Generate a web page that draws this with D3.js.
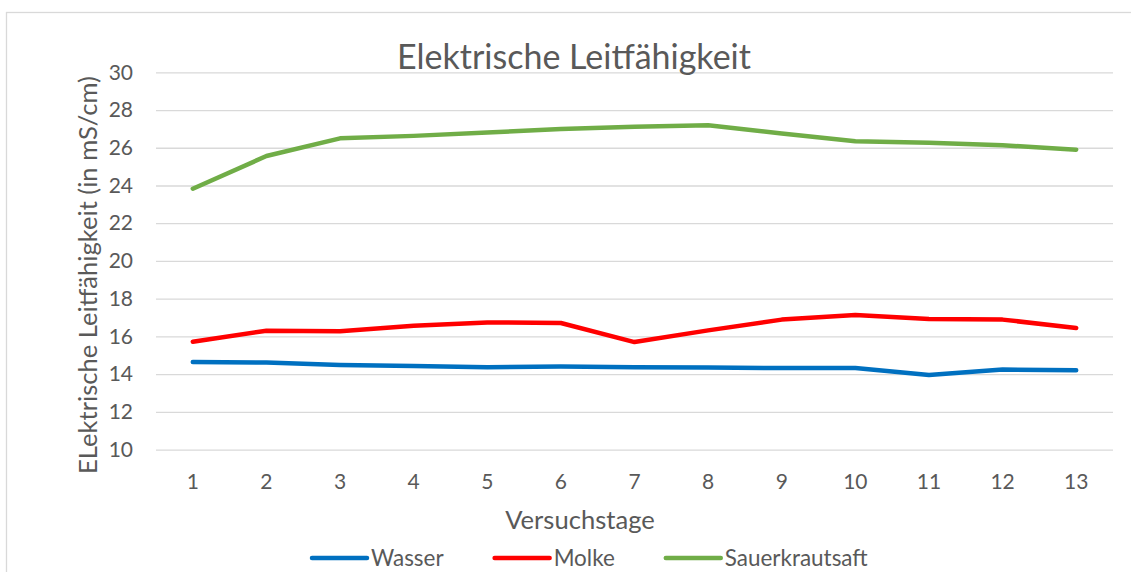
<!DOCTYPE html>
<html><head><meta charset="utf-8">
<script src="https://cdn.jsdelivr.net/npm/d3@7"></script>
<style>
body{margin:0;background:#fff}
svg{display:block}
text{font-family:Lato,"Open Sans",sans-serif;fill:#595959}
</style>
</head><body>
<svg id="chart" width="1131" height="572"></svg>
<script>
// ---- data ----
const categories = ["1","2","3","4","5","6","7","8","9","10","11","12","13"];
const wasser = [14.64,14.62,14.49,14.43,14.37,14.40,14.36,14.35,14.32,14.32,13.96,14.24,14.21];
const molke = [15.72,16.30,16.27,16.57,16.74,16.71,15.70,16.32,16.89,17.14,16.92,16.89,16.45];
const sauerkrautsaft = [23.83,25.56,26.50,26.63,26.81,26.99,27.12,27.19,26.76,26.35,26.26,26.13,25.90];
const yTicks = [10,12,14,16,18,20,22,24,26,28,30];
const seriesNames = ["Wasser","Molke","Sauerkrautsaft"];
const seriesColors = ["#0070C0","#FF0000","#70AD47"];
const titleText = "Elektrische Leitfähigkeit";
const yTitleText = "ELektrische Leitfähigkeit (in mS/cm)";
const xTitleText = "Versuchstage";

const series = [wasser, molke, sauerkrautsaft].map((v,i)=>({name:seriesNames[i], color:seriesColors[i], values:v}));

const svg = d3.select("#chart");
const plot = {left:156, right:1113, top:72.3, bottom:449.6};

function fit(sel, target){
  const node = sel.node();
  const fs = parseFloat(sel.attr("font-size"));
  const len = node.getComputedTextLength();
  const nf = fs*target/len;
  sel.attr("font-size", nf);
  return nf;
}

// chart area border
svg.append("rect").attr("x",6.5).attr("y",12.5).attr("width",1140).attr("height",600)
  .attr("fill","none").attr("stroke","#D9D9D9").attr("stroke-width",1.3);

const x = d3.scaleBand().domain(categories).range([plot.left, plot.right]);
const y = d3.scaleLinear().domain([10,30]).range([plot.bottom, plot.top]);
const cx = c => x(c) + x.bandwidth()/2;

// y axis with gridlines
const gy = svg.append("g").attr("transform",`translate(${plot.left},0)`)
  .call(d3.axisLeft(y).tickValues(yTicks).tickSize(-(plot.right-plot.left)).tickPadding(23).tickFormat(d3.format("d")));
gy.select(".domain").remove();
gy.selectAll(".tick line").attr("stroke","#D9D9D9").attr("stroke-width",1.3);
gy.selectAll(".tick text").attr("font-size",21).attr("fill","#595959").style("font-family","Lato");

// x axis
const gx = svg.append("g").attr("transform",`translate(0,${plot.bottom})`)
  .call(d3.axisBottom(x).tickSize(0).tickPadding(24));
gx.select(".domain").remove();
gx.selectAll(".tick text").attr("font-size",21).attr("fill","#595959").style("font-family","Lato");

// lines
const line = d3.line().x((d,i)=>cx(categories[i])).y(d=>y(d));
svg.append("g").selectAll("path").data(series).join("path")
  .attr("d", d=>line(d.values))
  .attr("fill","none").attr("stroke",d=>d.color).attr("stroke-width",4.5)
  .attr("stroke-linejoin","round").attr("stroke-linecap","round");

// title
const t = svg.append("text").attr("x",574).attr("y",69).attr("text-anchor","middle")
  .attr("font-size",30).text(titleText);
fit(t, 354);

// y title
const yt = svg.append("text").attr("transform","translate(97,275) rotate(-90)")
  .attr("text-anchor","middle").attr("font-size",24).text(yTitleText);
const axFs = fit(yt, 398);

// x title
svg.append("text").attr("x",580).attr("y",529).attr("text-anchor","middle")
  .attr("font-size",axFs).text(xTitleText);

// legend
const lg = svg.append("g");
const legFs = (()=>{
  const tmp = svg.append("text").attr("font-size",24).text(seriesNames[2]);
  const f = fit(tmp,143); tmp.remove(); return f;
})();
let lx = 312;
const ly = 558;
series.forEach(s=>{
  lg.append("line").attr("x1",lx).attr("x2",lx+55).attr("y1",ly).attr("y2",ly)
    .attr("stroke",s.color).attr("stroke-width",4.5).attr("stroke-linecap","round");
  const tx = lg.append("text").attr("x",lx+59).attr("y",ly).attr("dy","0.35em")
    .attr("font-size",legFs).text(s.name);
  lx = lx + 59 + tx.node().getComputedTextLength() + 51;
});
</script>
</body></html>
